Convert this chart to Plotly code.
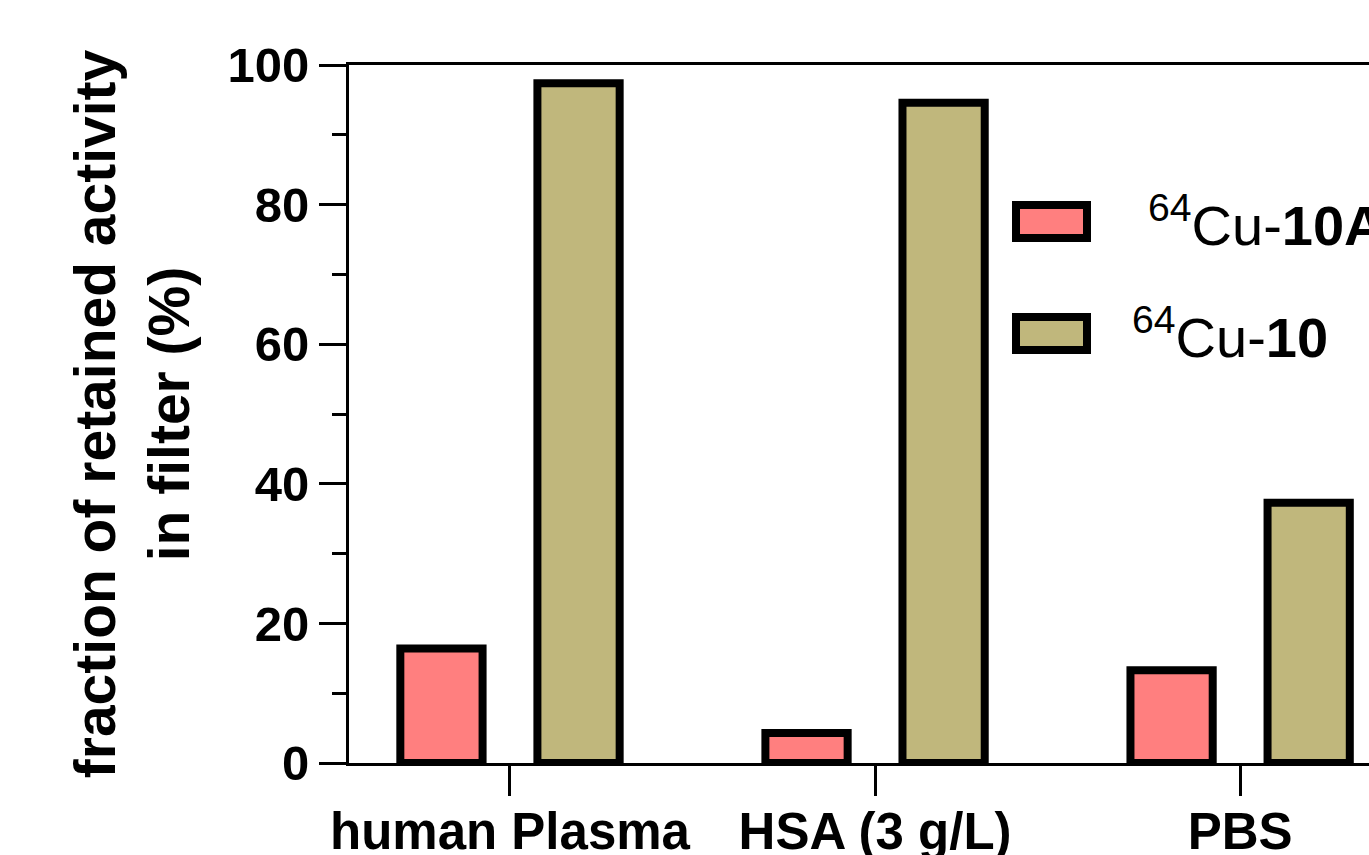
import plotly.graph_objects as go

categories = ["human Plasma", "HSA (3 g/L)", "PBS"]
cu10a_values = [16.4, 4.3, 13.3]
cu10_values = [97.4, 94.6, 37.3]
series_names = ["<sup>64</sup>Cu-<b>10A</b>", "<sup>64</sup>Cu-<b>10</b>"]
y_ticks = [0, 20, 40, 60, 80, 100]

W, H = 1369, 855
ML, MR, MT, MB = 349, 0, 65, 92
PW, PH = W - ML - MR, H - MT - MB

def px_x(p):
    return (p - ML) / PW

def px_y(p):
    return (H - MB - p) / PH

FONT = "Liberation Sans, Arial, sans-serif"
PINK = "#FF7F7F"
TAN = "#C0B77C"

fig = go.Figure()
fig.add_trace(go.Bar(x=categories, y=cu10a_values, name=series_names[0],
                     marker=dict(color=PINK, line=dict(color="black", width=8))))
fig.add_trace(go.Bar(x=categories, y=cu10_values, name=series_names[1],
                     marker=dict(color=TAN, line=dict(color="black", width=8))))

# custom legend (large swatches)
for i, (col, name) in enumerate(zip([PINK, TAN], series_names)):
    ytop = 205 + i * 112
    fig.add_shape(type="rect", xref="paper", yref="paper",
                  x0=px_x(1016), x1=px_x(1087), y0=px_y(ytop + 33), y1=px_y(ytop),
                  fillcolor=col, line=dict(color="black", width=8))
    fig.add_annotation(xref="paper", yref="paper", x=px_x(1146 if i == 0 else 1130),
                       y=px_y(ytop + 16), xanchor="left", yanchor="middle",
                       text=name, showarrow=False,
                       font=dict(family=FONT, size=56, color="black"))

fig.update_layout(
    width=W, height=H,
    margin=dict(l=ML, r=MR, t=MT, b=MB, pad=0),
    paper_bgcolor="white", plot_bgcolor="white",
    barmode="group", bargap=0.249, bargroupgap=0.40,
    showlegend=False,
    font=dict(family=FONT, color="black"),
)
fig.update_xaxes(
    type="category", range=[-0.441, 2.353], automargin=False,
    showline=True, linecolor="black", linewidth=3, mirror=True,
    ticks="outside", ticklen=30, tickwidth=3, tickcolor="black",
    ticklabelstandoff=-8,
    tickfont=dict(family=FONT, size=51, weight="bold", color="black"),
    showgrid=False, zeroline=False,
)
fig.update_yaxes(
    range=[0, 100], tickvals=y_ticks, automargin=False,
    showline=True, linecolor="black", linewidth=3,
    ticks="outside", ticklen=27, tickwidth=3, tickcolor="black",
    minor=dict(ticks="outside", ticklen=14, tickwidth=3, tickcolor="black", dtick=10),
    tickfont=dict(family=FONT, size=49, weight="bold", color="black"),
    showgrid=False, zeroline=False,
    title=dict(text="fraction of retained activity<br>in filter (%)",
               font=dict(family=FONT, size=57, weight="bold", color="black"),
               standoff=20),
)

fig.write_html("out.html")
